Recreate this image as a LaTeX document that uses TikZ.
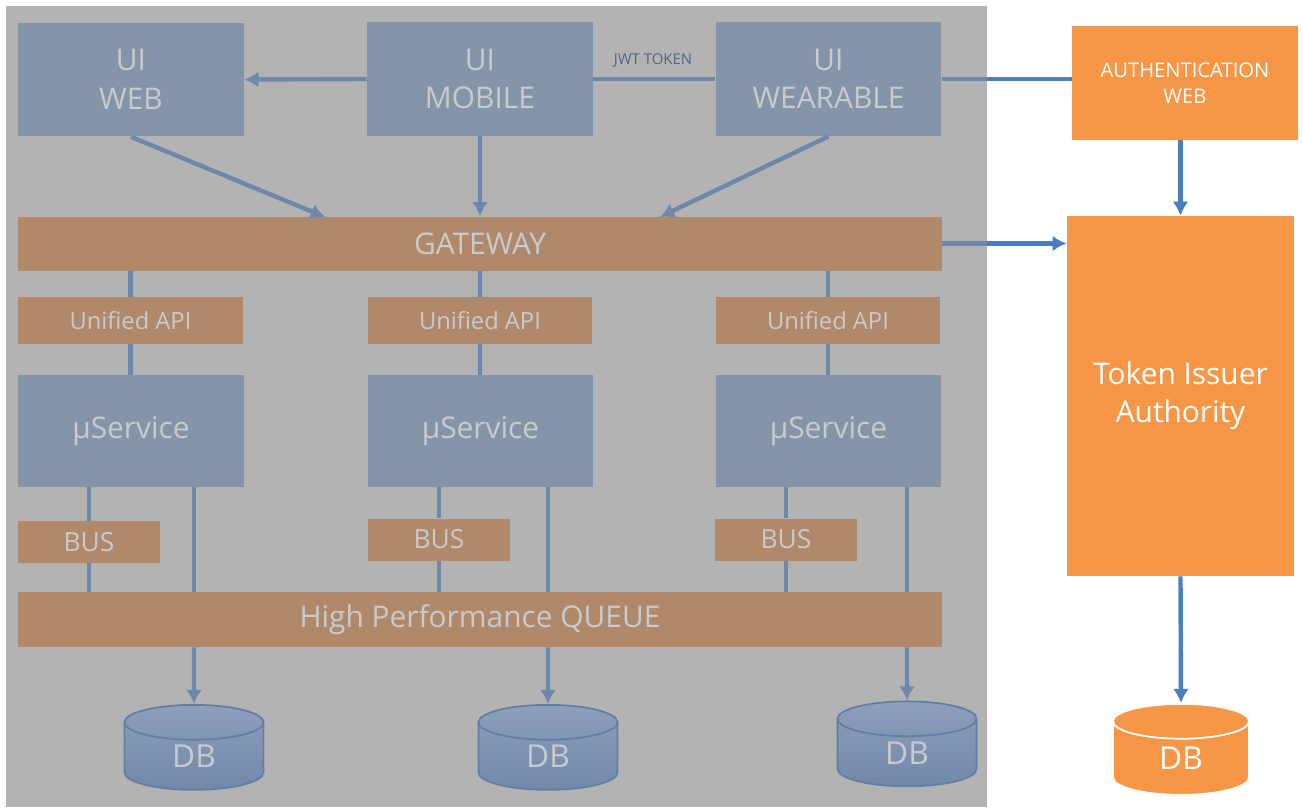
\documentclass[tikz,border=0pt]{standalone}
\usepackage{fontspec}
\setmainfont{Open Sans}
\usetikzlibrary{shapes.geometric,arrows.meta}
\definecolor{panelgray}{HTML}{B3B3B3}
\definecolor{uiblue}{HTML}{8495AA}
\definecolor{mutedorange}{HTML}{B0896A}
\definecolor{mutedtext}{HTML}{C9CBCD}
\definecolor{mutedline}{HTML}{6E88AC}
\definecolor{dbtop}{HTML}{8DA0BC}
\definecolor{dbbottom}{HTML}{7188AA}
\definecolor{dbedge}{HTML}{647EA3}
\definecolor{authorange}{HTML}{F79646}
\definecolor{authline}{HTML}{4A7EC1}
\definecolor{tokentext}{HTML}{56657A}
\tikzstyle{uibox}=[rectangle, fill=uiblue, text=mutedtext, align=center,
                   minimum width=4.52cm, minimum height=2.28cm, inner sep=0pt,
                   font=\fontsize{17}{22}\selectfont]
\tikzstyle{bar}=[rectangle, fill=mutedorange, text=mutedtext, inner sep=0pt,
                 minimum width=18.48cm, minimum height=1.08cm,
                 font=\fontsize{17}{22}\selectfont]
\tikzstyle{apibox}=[rectangle, fill=mutedorange, text=mutedtext, inner sep=0pt,
                    minimum width=4.5cm, minimum height=0.94cm,
                    font=\fontsize{13.5}{16}\selectfont]
\tikzstyle{busbox}=[rectangle, fill=mutedorange, text=mutedtext, inner sep=0pt,
                    minimum width=2.84cm, minimum height=0.84cm,
                    font=\fontsize{15}{18}\selectfont]
\tikzstyle{dbcyl}=[cylinder, shape border rotate=90, aspect=0.8, draw=dbedge,
                   line width=1pt, top color=dbtop, bottom color=dbbottom,
                   text=mutedtext, minimum width=2.78cm, minimum height=1.7cm,
                   inner sep=0pt, font=\fontsize{18}{22}\selectfont]
\tikzstyle{authbox}=[rectangle, fill=authorange, text=white, align=center, inner sep=0pt]
\tikzstyle{link}=[draw, line width=2.5pt, mutedline]
\tikzstyle{flow}=[link, -{Latex[length=8pt,width=9pt]}]
\tikzstyle{authflow}=[draw, line width=2.5pt, authline, -{Latex[length=8pt,width=9pt]}]

\begin{document}
\begin{tikzpicture}[x=0.02cm, y=-0.02cm]
    \useasboundingbox (0,0) rectangle (1303,809);
    \node [fill=panelgray, minimum width=19.62cm, minimum height=16.02cm, inner sep=0pt]
          at (496.5,406.5) (panel) {};
    % front ends
    \node [uibox] at (131,79.5)   (web)  {UI\\WEB};
    \node [uibox] at (480,79)     (mob)  {UI\\MOBILE};
    \node [uibox] at (828.5,79)   (wear) {UI\\WEARABLE};
    \node [font=\fontsize{8.5}{10}\selectfont, text=tokentext] at (653,60) (jwt) {JWT TOKEN};
    % gateway and services
    \node [bar] at (480,243.5) (gate) {GATEWAY};
    \node [apibox] at (130.5,320.5) (api1) {Unified API};
    \node [apibox] at (480,320.5)   (api2) {Unified API};
    \node [apibox] at (828,320.5)   (api3) {Unified API};
    \node [uibox, minimum height=2.24cm] at (131,431)   (svc1) {µService};
    \node [uibox, minimum height=2.24cm] at (480.5,431) (svc2) {µService};
    \node [uibox, minimum height=2.24cm] at (828.5,431) (svc3) {µService};
    \node [busbox] at (89,542)      (bus1) {BUS};
    \node [busbox] at (439,539.5)   (bus2) {BUS};
    \node [busbox] at (786,539.5)   (bus3) {BUS};
    \node [bar, minimum height=1.1cm] at (480,619.5) (queue) {High Performance QUEUE};
    \node [dbcyl] at (194,756.5) (db1) {DB};
    \node [dbcyl] at (548,756.5) (db2) {DB};
    \node [dbcyl] at (907,753)   (db3) {DB};
    % authentication
    \node [authbox, minimum width=4.52cm, minimum height=2.28cm,
           font=\fontsize{11.5}{14.5}\selectfont] at (1185,83) (auth) {AUTHENTICATION\\WEB};
    \node [authbox, minimum width=4.54cm, minimum height=7.2cm,
           font=\fontsize{17}{21.5}\selectfont] at (1180.5,396) (token) {Token Issuer\\Authority};
    \node [dbcyl, draw=white, fill=authorange, top color=authorange, bottom color=authorange,
           text=white, minimum width=2.72cm, minimum height=1.82cm] at (1181,758.5) (db4) {DB};
    \coordinate (gin1) at (325,217);
    \coordinate (gin2) at (660,217);
    % connectors
    \path [flow] (mob.west) -- (web.east);
    \path [link] (mob.east) -- (wear.west);
    \path [flow] (web.south) -- (gin1);
    \path [flow] (mob.south) -- (gate.north);
    \path [flow] (wear.south) -- (gin2);
    \path [link] (wear.east) -- (wear.east -| panel.east);
    \path [draw, line width=2.5pt, authline] (wear.east -| panel.east) -- (wear.east -| auth.west);
    \path [link] (gate.east) -- (gate.east -| panel.east);
    \path [authflow] (gate.east -| panel.east) -- (gate.east -| token.west);
    \path [authflow] (auth.south -| token.north) -- (token.north);
    \path [authflow] (token.south) -- (db4.north);
    \foreach \i in {1,2,3} {
      \path [link] (api\i.north) -- (api\i.north |- gate.south);
      \path [link] (api\i.south) -- (api\i.south |- svc\i.north);
      \path [link] (svc\i.south -| bus\i) -- (bus\i.north);
      \path [link] (bus\i.south) -- (bus\i |- queue.north);
      \path [link] (svc\i.south -| db\i) -- (db\i |- queue.north);
      \path [flow] (queue.south -| db\i) -- (db\i.north);
    }
  \end{tikzpicture}
\end{document}
